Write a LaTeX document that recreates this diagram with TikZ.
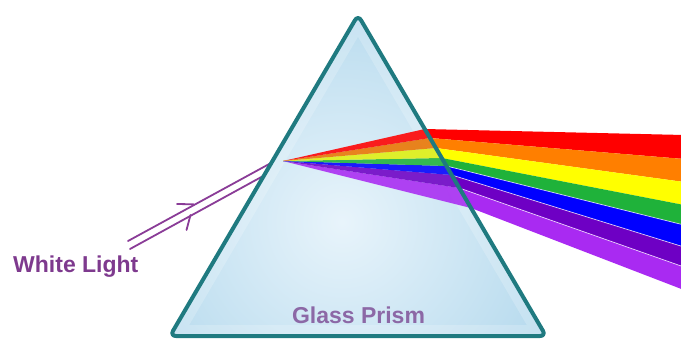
\documentclass[tikz,border=0pt]{standalone}
\usepackage{fontspec}
\setmainfont{Liberation Sans}
\usetikzlibrary{calc}

\definecolor{prismedge}{HTML}{1F7A80}
\definecolor{glassdeep}{HTML}{8CC4E2}
\definecolor{glasslight}{HTML}{E8F4FB}
\definecolor{raypurple}{HTML}{8A3C97}
\definecolor{labelpurple}{HTML}{7E3A8E}
\definecolor{prismlabel}{HTML}{8C68A6}
\definecolor{bandred}{HTML}{FF0000}
\definecolor{bandorange}{HTML}{FF7F00}
\definecolor{bandyellow}{HTML}{FFFF00}
\definecolor{bandgreen}{HTML}{1FB23A}
\definecolor{bandblue}{HTML}{0000FF}
\definecolor{bandindigo}{HTML}{6E00C4}
\definecolor{bandviolet}{HTML}{A92AF2}

\begin{document}
\begin{tikzpicture}[x=1pt,y=-1pt,
  ray/.style={draw=raypurple, line width=1.8pt, line cap=round},
  rim/.style={draw=prismedge, line width=4pt, rounded corners=6pt, line join=round},
  caption/.style={font=\bfseries\fontsize{23}{23}\selectfont, inner sep=0pt},
  inband/.style={fill opacity=0.88},
  gap/.style={draw=white, line width=0.7pt, opacity=0.75}]
\useasboundingbox (0,0) rectangle (681,346);

% prism corners
\coordinate (apex) at (358,15);
\coordinate (bl) at (170,336);
\coordinate (br) at (546,336);

% glass body with a lighter bevel strip along its faces
\begin{scope}
  \clip[rounded corners=6pt] (apex) -- (br) -- (bl) -- cycle;
  \fill[glassdeep] (150,0) rectangle (560,346);
  \shade[inner color=glasslight, outer color=glassdeep] (342,222) circle [radius=420pt];
  \draw[white, opacity=0.2, line width=22pt, line join=round] (apex) -- (br) -- (bl) -- cycle;
\end{scope}

% incoming white light (double ray)
\coordinate (w1) at (128,241);
\coordinate (w2) at (130,249);
\coordinate (in1) at (271,163);
\coordinate (in2) at (265,175);
\draw[ray] (w1) -- (in1);
\draw[ray] (w2) -- (in2);
\coordinate (tipA) at (193.5,204.3);
\coordinate (barbA) at (177,204);
\coordinate (tipB) at (190.5,215);
\coordinate (barbB) at (186.5,230);
\draw[ray] (barbA) -- (tipA);
\draw[ray] (barbB) -- (tipB);

% spectrum: source point, exit points on the right face, far ends
\coordinate (P) at (283,161);
\coordinate (E0) at (424.8,129);
\coordinate (E1) at (430.0,138);
\coordinate (E2) at (435.9,148);
\coordinate (E3) at (441.8,158);
\coordinate (E4) at (446.4,166);
\coordinate (E5) at (451.7,175);
\coordinate (E6) at (459.3,188);
\coordinate (E7) at (471.0,208);
\coordinate (R0) at (684,135);
\coordinate (R1) at (684,159);
\coordinate (R2) at (684,182);
\coordinate (R3) at (684,205);
\coordinate (R4) at (684,225);
\coordinate (R5) at (684,247);
\coordinate (R6) at (684,267);
\coordinate (R7) at (684,290);

% bands inside the glass
\fill[bandviolet, inband] (P) -- (E6) -- (E7) -- cycle;
\fill[bandindigo, inband] (P) -- (E5) -- (E6) -- cycle;
\fill[bandblue, inband] (P) -- (E4) -- (E5) -- cycle;
\fill[bandgreen, inband] (P) -- (E3) -- (E4) -- cycle;
\fill[bandyellow!88!teal, inband] (P) -- (E2) -- (E3) -- cycle;
\fill[bandorange!92!black, inband] (P) -- (E1) -- (E2) -- cycle;
\fill[bandred, inband] (P) -- (E0) -- (E1) -- cycle;

% bands leaving the glass
\fill[bandred] (E0) -- (R0) -- (R1) -- (E1) -- cycle;
\fill[bandorange] (E1) -- (R1) -- (R2) -- (E2) -- cycle;
\fill[bandyellow] (E2) -- (R2) -- (R3) -- (E3) -- cycle;
\fill[bandgreen] (E3) -- (R3) -- (R4) -- (E4) -- cycle;
\fill[bandblue] (E4) -- (R4) -- (R5) -- (E5) -- cycle;
\fill[bandindigo] (E5) -- (R5) -- (R6) -- (E6) -- cycle;
\fill[bandviolet] (E6) -- (R6) -- (R7) -- (E7) -- cycle;
\draw[gap] (E4) -- (R4);
\draw[gap] (E5) -- (R5);
\draw[gap] (E6) -- (R6);

% prism outline
\draw[rim] (apex) -- (br) -- (bl) -- cycle;

% labels
\node[caption, text=labelpurple, anchor=base west] (white) at (13,272) {White Light};
\node[caption, text=prismlabel, anchor=base] (glass) at (358.5,323) {Glass Prism};
\end{tikzpicture}
\end{document}
